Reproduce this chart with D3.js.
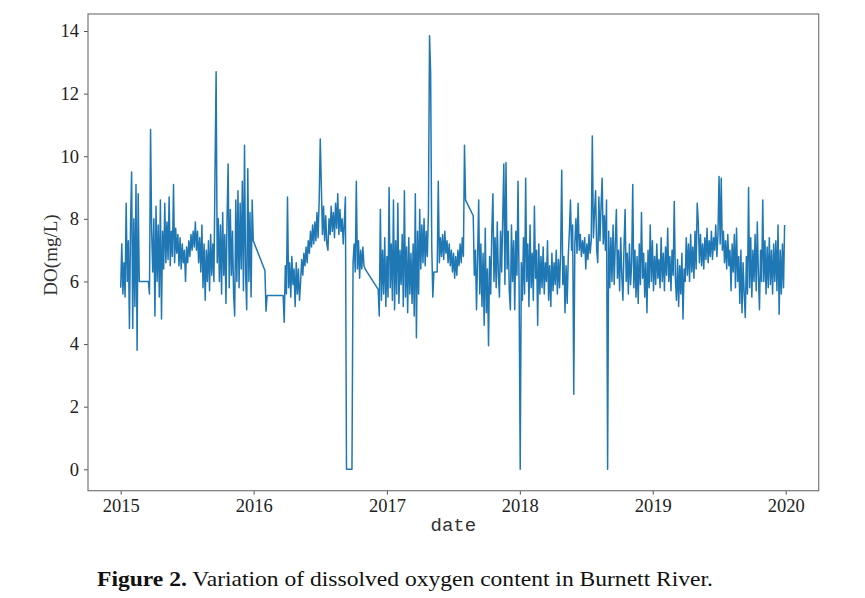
<!DOCTYPE html>
<html>
<head>
<meta charset="utf-8">
<script src="https://cdn.jsdelivr.net/npm/d3@7"></script>
<style>
  body { margin: 0; background: #fff; }
</style>
</head>
<body>
<div id="chart-holder"></div>
<script>
// ****DATA****, one reading every 3 days per run,
// runs are joined by straight lines where the record has gaps
const stepDays = 3;
const runStarts = ["2015-01-01", "2015-03-18", "2016-02-01", "2016-03-22", "2016-12-08", "2017-08-26"];

const run2015a = [5.8, 7.2, 5.6, 6.6, 5.5, 8.5, 6.0, 7.3, 4.5, 7.8, 9.5, 4.5, 8.0, 5.2, 9.1, 3.8, 8.8, 6.0, 6.0];
const run2015b = [
  6.0, 5.6, 10.85, 7.6, 6.3, 8.0, 4.9, 8.4, 6.0, 7.8, 5.5, 8.6, 4.8, 7.6, 6.4, 8.5, 6.6, 7.9, 6.7, 8.7,
  6.5, 7.6, 6.8, 9.1, 6.6, 7.7, 6.9, 7.5, 6.5, 7.4, 6.4, 7.2, 6.6, 7.0, 6.0, 7.1, 6.6, 7.3, 6.8, 7.5,
  7.0, 7.6, 7.1, 7.9, 7.0, 7.6, 6.6, 7.4, 6.3, 7.8, 5.8, 7.2, 5.4, 7.0, 6.0, 7.3, 5.7, 7.5, 6.2, 7.2,
  6.0, 9.5, 12.7, 6.6, 8.0, 6.0, 7.8, 5.6, 8.2, 6.2, 7.5, 5.3, 8.0, 9.75, 5.8, 8.3, 6.2, 7.6, 5.6, 4.9,
  8.6, 6.0, 8.9, 5.8, 8.5, 6.4, 9.2, 5.7, 10.35, 6.2, 5.1, 9.6, 6.0, 8.2, 5.5, 8.6, 7.3
];
const run2016gap = [6.35, 5.05, 5.55];
const run2016 = [
  5.55, 4.7, 6.5, 5.6, 8.7, 5.8, 6.6, 5.5, 6.8, 5.9, 6.4, 5.2, 6.6, 5.6, 6.4, 5.4, 6.0, 6.7, 6.2, 6.9,
  6.5, 7.1, 6.6, 7.3, 6.9, 7.6, 7.1, 7.8, 7.2, 7.9, 7.3, 8.2, 7.4, 8.6, 10.55, 9.0, 7.5, 8.4, 7.3, 8.1,
  7.2, 7.0, 8.0, 7.5, 8.4, 7.6, 8.2, 7.4, 8.5, 7.7, 8.8, 7.5, 8.3, 7.6, 8.0, 7.2, 7.9, 8.7, 0, 0,
  0, 0, 0, 0, 6.6, 7.2, 6.3, 9.2, 6.4, 7.3, 6.1, 7.0, 6.4, 7.1, 6.5, 6.4
];
const run2017a = [
  5.75, 4.9, 8.3, 5.4, 7.0, 5.6, 7.4, 5.2, 6.8, 5.5, 9.0, 5.8, 7.2, 5.4, 8.6, 5.1, 7.3, 5.6, 8.5, 5.3,
  7.0, 5.9, 7.5, 5.2, 8.9, 5.5, 7.1, 5.0, 7.4, 5.6, 6.9, 5.3, 7.2, 4.9, 8.8, 4.2, 7.6, 5.6, 8.3, 6.4,
  7.8, 6.6, 8.0, 6.5, 7.6, 6.8, 8.2, 13.85, 12.7, 7.2, 5.5, 6.3, 6.3, 6.3, 6.3, 9.2, 6.6, 7.4, 6.8, 7.5,
  6.7, 7.6, 6.9, 7.3, 6.6, 7.2, 6.5, 7.0, 6.3, 6.9, 6.1, 6.8, 6.2, 7.0, 6.5, 7.2, 6.6, 7.4, 6.8, 10.35,
  8.6
];
const run2017b = [
  8.1, 6.2, 7.0, 5.1, 6.8, 8.6, 5.6, 7.2, 5.2, 6.9, 4.6, 7.7, 5.0, 6.4, 3.95, 6.8, 5.6, 7.6, 8.8, 6.0,
  7.4, 5.8, 7.9, 6.2, 5.5, 7.6, 6.3, 8.0, 9.75, 5.9, 9.8, 6.4, 7.6, 5.7, 5.1, 7.8, 6.0, 7.3, 5.1, 7.6,
  6.2, 9.2, 5.8, 0, 6.6, 5.4, 7.4, 5.6, 9.3, 6.0, 7.2, 5.2, 7.8, 5.8, 6.9, 5.4, 8.4, 6.1, 7.0, 4.6,
  7.2, 5.6, 6.8, 5.8, 7.1, 5.6, 6.6, 6.0, 7.3, 5.4, 6.5, 5.2, 6.9, 5.7, 6.6, 5.9, 7.0, 5.6, 6.7, 5.8,
  6.9, 9.55, 5.9, 6.8, 5.0, 6.5, 5.3, 6.8, 7.6, 8.6, 7.0, 7.8, 2.4, 7.2, 8.0, 6.9, 8.5, 7.0, 7.5, 6.8,
  7.3, 6.9, 7.4, 6.4, 7.2, 6.7, 7.5, 6.9, 7.3, 10.65, 7.4, 8.2, 8.9, 7.0, 6.6, 8.7, 7.3, 8.4, 9.3, 7.2,
  8.1, 7.0, 8.6, 0, 7.6, 5.8, 7.4, 6.0, 7.8, 5.9, 7.2, 8.3, 6.1, 7.0, 5.7, 7.4, 6.2, 5.4, 7.1, 8.3,
  6.0, 6.9, 5.6, 7.2, 5.9, 6.6, 9.1, 5.8, 7.0, 5.5, 6.8, 5.3, 7.2, 5.9, 8.2, 6.1, 6.9, 5.5, 6.6, 5.0,
  7.0, 5.8, 7.8, 6.0, 7.3, 5.7, 6.8, 5.9, 7.2, 6.1, 6.7, 5.8, 7.4, 6.0, 6.9, 5.7, 7.1, 6.2, 7.7, 6.0,
  6.8, 5.7, 7.0, 6.2, 8.55, 6.1, 5.4, 6.7, 5.2, 6.5, 5.6, 6.9, 4.8, 6.4, 6.0, 7.4, 6.2, 7.2, 6.0, 7.5,
  6.3, 7.1, 6.1, 7.6, 6.4, 8.5, 7.9, 6.6, 7.5, 6.5, 7.2, 6.4, 7.4, 6.7, 7.7, 6.6, 7.3, 6.8, 7.6, 6.7,
  7.4, 7.0, 7.8, 6.8, 7.5, 9.35, 7.2, 9.3, 7.0, 7.6, 6.6, 7.3, 6.4, 7.5, 6.5, 7.0, 5.7, 7.2, 6.3, 7.5,
  5.8, 7.7, 6.0, 6.8, 5.3, 7.0, 5.0, 6.6, 5.6, 4.85, 6.8, 5.6, 9.0, 5.8, 7.4, 5.5, 7.0, 6.0, 7.5, 5.7,
  7.9, 6.2, 5.1, 7.0, 6.0, 8.6, 6.0, 7.3, 5.6, 7.1, 5.8, 7.4, 5.9, 7.0, 5.6, 7.2, 6.0, 7.3, 5.7, 7.8,
  4.95, 7.0, 5.6, 7.2, 5.8, 7.8
];
const runValues = [run2015a, run2015b, run2016gap, run2016, run2017a, run2017b];

const yTicks = [0, 2, 4, 6, 8, 10, 12, 14];
const xTickYears = [2015, 2016, 2017, 2018, 2019, 2020];

const yLabel = "DO(mg/L)";
const xLabel = "date";
const captionBold = "Figure 2.";
const captionText = " Variation of dissolved oxygen content in Burnett River.";

// ****BUILD POINTS****
const parseDate = d3.utcParse("%Y-%m-%d");
const dataSet = runValues.flatMap(function (vals, i) {
    const start = parseDate(runStarts[i]);
    return vals.map(function (v, j) {
        return { date: d3.utcDay.offset(start, j * stepDays), value: v };
    });
});

// ****SVG CANVAS****
const width = 865;
const height = 598;
const frameLeft = 88, frameRight = 818.7, frameTop = 14, frameBottom = 490.7;

const svg = d3.select('#chart-holder')
    .append('svg')
    .attr('width', width)
    .attr('height', height);

// ****SCALES**** (matplotlib style 5% margins around the data)
const xScale = d3.scaleUtc()
    .domain([new Date(Date.UTC(2015, 0, 1)), new Date(Date.UTC(2020, 0, 1))])
    .range([120.7, 785.7]);
const yScale = d3.scaleLinear()
    .domain([0, 14])
    .range([469.3, 31.0]);

const tickFont = "'Liberation Serif', 'Times New Roman', serif";

// x axis
const xAxis = svg.append('g')
    .attr('transform', `translate(0, ${frameBottom})`)
    .call(d3.axisBottom(xScale)
        .tickValues(xTickYears.map(function (y) { return new Date(Date.UTC(y, 0, 1)); }))
        .tickFormat(d3.utcFormat('%Y'))
        .tickSize(4)
        .tickPadding(4));
xAxis.select('.domain').remove();
xAxis.selectAll('line').attr('stroke', '#555');
xAxis.selectAll('text')
    .attr('fill', '#222')
    .style('font-family', tickFont)
    .style('font-size', '18.5px');

// y axis
const yAxis = svg.append('g')
    .attr('transform', `translate(${frameLeft}, 0)`)
    .call(d3.axisLeft(yScale)
        .tickValues(yTicks)
        .tickSize(4)
        .tickPadding(5));
yAxis.select('.domain').remove();
yAxis.selectAll('line').attr('stroke', '#555');
yAxis.selectAll('text')
    .attr('fill', '#222')
    .style('font-family', tickFont)
    .style('font-size', '18.5px');

// ****PLOT THE DATA****
const line = d3.line()
    .x(function (d) { return xScale(d.date); })
    .y(function (d) { return yScale(d.value); });

svg.append('path')
    .datum(dataSet)
    .attr('fill', 'none')
    .attr('stroke', '#1f77b4')
    .attr('stroke-width', 1.5)
    .attr('stroke-linejoin', 'round')
    .attr('d', line);

// frame
svg.append('rect')
    .attr('x', frameLeft)
    .attr('y', frameTop)
    .attr('width', frameRight - frameLeft)
    .attr('height', frameBottom - frameTop)
    .attr('fill', 'none')
    .attr('stroke', '#777')
    .attr('stroke-width', 1.2);

// axis labels
svg.append('text')
    .attr('x', (frameLeft + frameRight) / 2)
    .attr('y', 531)
    .attr('text-anchor', 'middle')
    .attr('fill', '#333')
    .style('font-family', "'Liberation Mono', monospace")
    .style('font-size', '19px')
    .text(xLabel);

svg.append('text')
    .attr('transform', 'translate(57, 255) rotate(-90)')
    .attr('text-anchor', 'middle')
    .attr('fill', '#333')
    .style('font-family', "'Liberation Serif', serif")
    .style('font-size', '19px')
    .text(yLabel);

// caption
const caption = svg.append('text')
    .attr('x', 97)
    .attr('y', 586)
    .attr('fill', '#111')
    .style('font-family', "'Liberation Serif', serif")
    .style('font-size', '22px');
caption.append('tspan').style('font-weight', 'bold').text(captionBold);
caption.append('tspan').text(captionText);
caption.attr('textLength', 616).attr('lengthAdjust', 'spacingAndGlyphs');
</script>
</body>
</html>
